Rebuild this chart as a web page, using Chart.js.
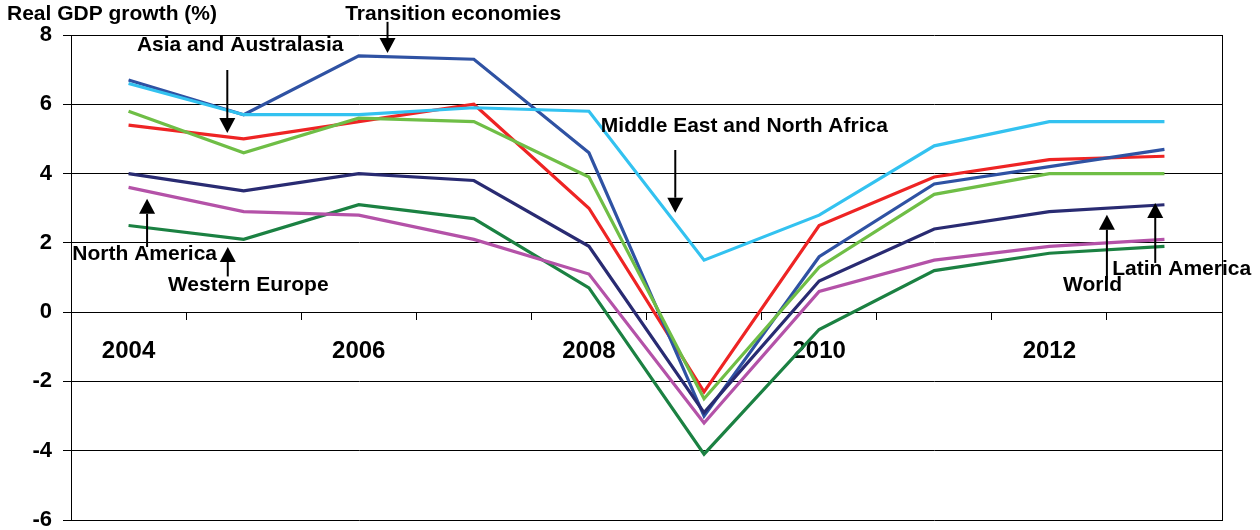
<!DOCTYPE html>
<html>
<head>
<meta charset="utf-8">
<script src="https://cdn.jsdelivr.net/npm/chart.js@4.4.1/dist/chart.umd.min.js"></script>
<style>
  html, body { margin: 0; padding: 0; background: #fff; }
  #wrap { position: relative; width: 1260px; height: 530px; }
</style>
</head>
<body>
<div id="wrap"><canvas id="grafico"></canvas></div>
<script>
var FONTE = '"Liberation Sans", Arial, Helvetica, sans-serif';

// anos (eixo x) e crescimento real do PIB (%) por regiao
var anos = ['2004', '2005', '2006', '2007', '2008', '2009', '2010', '2011', '2012', '2013'];
var transicao     = [6.7, 5.7, 7.4, 7.3, 4.6, -3.0, 1.6, 3.7, 4.2, 4.7];
var oriente_medio = [6.6, 5.7, 5.7, 5.9, 5.8, 1.5, 2.8, 4.8, 5.5, 5.5];
var asia          = [5.4, 5.0, 5.5, 6.0, 3.0, -2.3, 2.5, 3.9, 4.4, 4.5];
var america_latina = [5.8, 4.6, 5.6, 5.5, 3.9, -2.5, 1.3, 3.4, 4.0, 4.0];
var mundo         = [4.0, 3.5, 4.0, 3.8, 1.9, -2.9, 0.9, 2.4, 2.9, 3.1];
var america_norte = [3.6, 2.9, 2.8, 2.1, 1.1, -3.2, 0.6, 1.5, 1.9, 2.1];
var europa_oc     = [2.5, 2.1, 3.1, 2.7, 0.7, -4.1, -0.5, 1.2, 1.7, 1.9];

// textos das regioes (x = indice do ano, y = valor no eixo)
var rotulos = [
    { texto: 'Transition economies', x: 2.82, y: 8.61 },
    { texto: 'Asia and Australasia', x: 0.97, y: 7.71 },
    { texto: 'Middle East and North Africa', x: 5.35, y: 5.38 },
    { texto: 'North America', x: 0.14, y: 1.68 },
    { texto: 'Western Europe', x: 1.04, y: 0.77 },
    { texto: 'World', x: 8.375, y: 0.79 },
    { texto: 'Latin America', x: 9.15, y: 1.25 }
];
// setas: de = inicio da haste, ate = ponta
var setas = [
    { x: 2.25, de: 8.38, ate: 7.48 },
    { x: 0.858, de: 6.99, ate: 5.17 },
    { x: 4.75, de: 4.68, ate: 2.87 },
    { x: 0.161, de: 1.88, ate: 3.27 },
    { x: 0.862, de: 1.03, ate: 1.88 },
    { x: 8.50, de: 0.93, ate: 2.81 },
    { x: 8.92, de: 1.42, ate: 3.15 }
];

function serie(nome, dados, cor) {
    return {
        label: nome,
        data: dados,
        borderColor: cor,
        backgroundColor: cor,
        borderWidth: 3.2,
        pointRadius: 0,
        tension: 0,
        fill: false
    };
}

//PLUGIN QUE DESENHA TITULO, BORDA DIREITA, TEXTOS E SETAS
var anotacoes = {
    id: 'anotacoes',
    afterDraw: function (chart) {
        var ctx = chart.ctx;
        var sx = chart.scales.x;
        var sy = chart.scales.y;
        var area = chart.chartArea;
        ctx.save();
        ctx.strokeStyle = '#000';
        ctx.lineWidth = 1;
        var xr = Math.round(area.right) + 0.5;
        ctx.beginPath();
        ctx.moveTo(xr, Math.round(area.top));
        ctx.lineTo(xr, Math.round(area.bottom) + 1);
        ctx.stroke();

        ctx.fillStyle = '#000';
        ctx.font = 'bold 21px ' + FONTE;
        ctx.textAlign = 'left';
        ctx.textBaseline = 'middle';
        ctx.fillText('Real GDP growth (%)', 7, 14);

        ctx.textAlign = 'center';
        rotulos.forEach(function (r) {
            ctx.fillText(r.texto, sx.getPixelForValue(r.x), sy.getPixelForValue(r.y));
        });

        setas.forEach(function (s) {
            var x = sx.getPixelForValue(s.x);
            var y1 = sy.getPixelForValue(s.de);
            var y2 = sy.getPixelForValue(s.ate);
            var dir = y2 > y1 ? 1 : -1;
            var cab = 15;
            ctx.lineWidth = 2;
            ctx.beginPath();
            ctx.moveTo(x, y1);
            ctx.lineTo(x, y2 - dir * cab);
            ctx.stroke();
            ctx.beginPath();
            ctx.moveTo(x, y2);
            ctx.lineTo(x - 8, y2 - dir * cab);
            ctx.lineTo(x + 8, y2 - dir * cab);
            ctx.closePath();
            ctx.fill();
        });
        ctx.restore();
    }
};

var ctx = document.getElementById('grafico').getContext('2d');
var grafico = new Chart(ctx, {
    type: 'line',
    data: {
        labels: anos,
        datasets: [
            serie('Middle East and North Africa', oriente_medio, '#33C2F0'),
            serie('North America', america_norte, '#B452A8'),
            serie('Latin America', america_latina, '#6FBE46'),
            serie('World', mundo, '#292B72'),
            serie('Transition economies', transicao, '#2F52A3'),
            serie('Asia and Australasia', asia, '#EE2424'),
            serie('Western Europe', europa_oc, '#1B8142')
        ]
    },
    options: {
        responsive: true,
        maintainAspectRatio: false,
        animation: false,
        layout: { padding: { top: 35, right: 38, bottom: 10, left: 0 } },
        plugins: {
            legend: { display: false },
            tooltip: { enabled: false }
        },
        scales: {
            x: {
                position: { y: 0 },
                offset: true,
                afterFit: function (s) { s.height = 0; },
                grid: { offset: true, drawOnChartArea: false, tickLength: 7, color: '#000' },
                border: { color: '#000', width: 1 },
                ticks: {
                    autoSkip: false,
                    maxRotation: 0,
                    padding: 18,
                    color: '#000',
                    font: { family: FONTE, size: 24, weight: 'bold' },
                    callback: function (v, i) {
                        return i % 2 === 0 ? this.getLabelForValue(v) : '';
                    }
                }
            },
            y: {
                min: -6,
                max: 8,
                afterFit: function (s) {
                    s.width = 71;
                    s.paddingTop = 0;
                    s.paddingBottom = 0;
                },
                grid: { color: '#000', tickLength: 8 },
                border: { color: '#000' },
                ticks: {
                    stepSize: 2,
                    padding: 11,
                    color: '#000',
                    font: { family: FONTE, size: 22, weight: 'bold' }
                }
            }
        }
    },
    plugins: [anotacoes]
});
</script>
</body>
</html>
